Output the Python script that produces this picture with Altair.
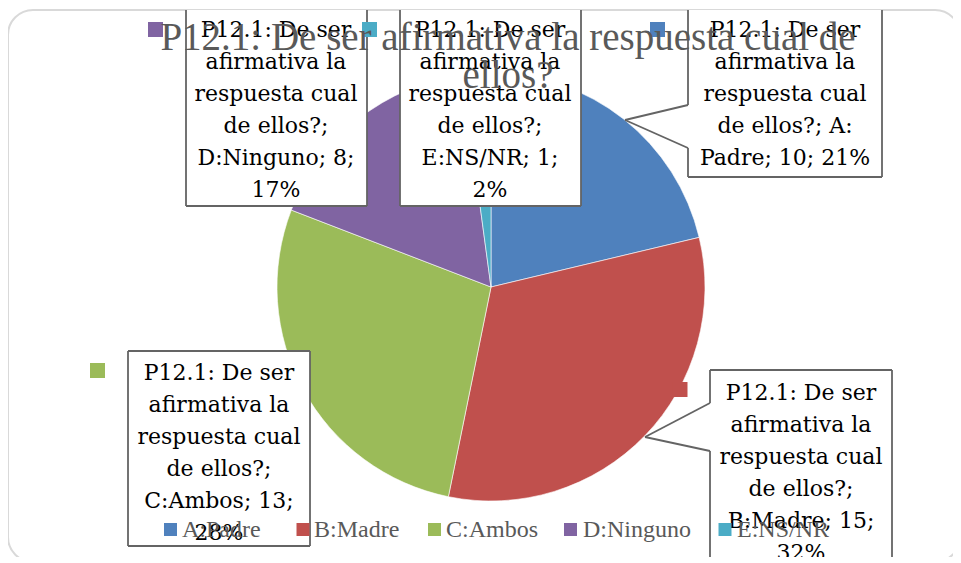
import altair as alt
import pandas as pd

# ---------------- data ----------------
categories = ["A:Padre", "B:Madre", "C:Ambos", "D:Ninguno", "E:NS/NR"]
values = [10, 15, 13, 8, 1]
colors = ["#4F81BD", "#C0504D", "#9BBB59", "#8064A2", "#4BACC6"]
title_lines = ["P12.1: De ser afirmativa la respuesta cual de", "ellos?"]
question_lines = ["P12.1: De ser", "afirmativa la", "respuesta cual"]

total = sum(values)
pcts = [round(v * 100 / total) for v in values]

# ---------------- layout (page pixel coordinates) ----------------
W, H = 945, 549
OX, OY = 8, 8
xs = alt.Scale(domain=[OX, OX + W], range=[0, W], nice=False, zero=False)
ys = alt.Scale(domain=[OY, OY + H], range=[0, H], nice=False, zero=False)
PIE_CX, PIE_CY, PIE_R = 491, 287, 214

# label boxes: (x0, x1, y0, y1, text centre x, first line y)
boxes = {
    "A:Padre": (688, 882, 10, 177, 785, 30),
    "B:Madre": (710, 892, 370, 600, 801, 393),
    "C:Ambos": (128, 310, 351, 546, 219, 373),
    "D:Ninguno": (186, 367, 10, 206, 276, 30),
    "E:NS/NR": (400, 581, 10, 206, 490, 30),
}
LINE_H = 32
# outline segments of each label box
segments = [
    # D
    (186, 10, 186, 206), (186, 206, 367, 206), (367, 206, 367, 10),
    # E
    (400, 10, 400, 206), (400, 206, 581, 206), (581, 206, 581, 10),
    # A with callout pointer
    (688, 10, 688, 105), (688, 105, 625, 120), (625, 120, 688, 148),
    (688, 148, 688, 177), (688, 177, 882, 177), (882, 177, 882, 10),
    # C
    (128, 351, 310, 351), (310, 351, 310, 546), (310, 546, 128, 546), (128, 546, 128, 351),
    # B with callout pointer
    (710, 370, 892, 370), (892, 370, 892, 600), (710, 600, 710, 451),
    (710, 451, 645, 437), (645, 437, 710, 403), (710, 403, 710, 370),
]
# small legend keys beside the labels
label_keys = {
    "A:Padre": (657.5, 29.5),
    "B:Madre": (680, 389.5),
    "C:Ambos": (97.5, 370.5),
    "D:Ninguno": (155.5, 29.5),
    "E:NS/NR": (369.5, 29.5),
}
# bottom legend: (square centre x, text start x)
legend_pos = {
    "A:Padre": (170.5, 182),
    "B:Madre": (303, 314),
    "C:Ambos": (434.5, 446),
    "D:Ninguno": (570.5, 583),
    "E:NS/NR": (725, 737),
}
LEGEND_Y = 529.5

color_enc = alt.Color("cat:N", scale=alt.Scale(domain=categories, range=colors), legend=None)

# ---------------- frame ----------------
frame_df = pd.DataFrame({"x0": [8], "x1": [960], "y0": [10], "y1": [562]})
frame = alt.Chart(frame_df).mark_rect(
    cornerRadius=25, fillOpacity=0, stroke="#d9d9d9", strokeWidth=2
).encode(
    x=alt.X("x0:Q", scale=xs, axis=None), x2="x1:Q",
    y=alt.Y("y0:Q", scale=ys, axis=None), y2="y1:Q",
)

# ---------------- pie ----------------
pie_df = pd.DataFrame({"cat": categories, "val": values, "idx": list(range(len(values)))})
pie = alt.Chart(pie_df).mark_arc(outerRadius=PIE_R, stroke="white", strokeWidth=0.6).encode(
    theta=alt.Theta("val:Q", stack=True),
    color=color_enc,
    order=alt.Order("idx:Q"),
    x=alt.value(PIE_CX - OX),
    y=alt.value(PIE_CY - OY),
)

# ---------------- label boxes ----------------
box_df = pd.DataFrame([
    {"cat": c, "x0": b[0], "x1": b[1], "y0": b[2], "y1": b[3]} for c, b in boxes.items()
])
box_fill = alt.Chart(box_df).mark_rect(fill="white").encode(
    x=alt.X("x0:Q", scale=xs, axis=None), x2="x1:Q",
    y=alt.Y("y0:Q", scale=ys, axis=None), y2="y1:Q",
)
seg_df = pd.DataFrame(segments, columns=["x", "y", "x2", "y2"])
box_lines = alt.Chart(seg_df).mark_rule(color="#646464", strokeWidth=1.8).encode(
    x=alt.X("x:Q", scale=xs, axis=None), x2="x2:Q",
    y=alt.Y("y:Q", scale=ys, axis=None), y2="y2:Q",
)

key_df = pd.DataFrame([
    {"cat": c, "x": p[0], "y": p[1]} for c, p in label_keys.items()
])
keys = alt.Chart(key_df).mark_square(size=225, opacity=1).encode(
    x=alt.X("x:Q", scale=xs, axis=None),
    y=alt.Y("y:Q", scale=ys, axis=None),
    color=color_enc,
)

# label texts built from the data
rows = []
for cat, val, pct in zip(categories, values, pcts):
    name = cat
    if cat == "A:Padre":
        tail = ["de ellos?; A:", f"Padre; {val}; {pct}%"]
    else:
        tail = ["de ellos?;", f"{name}; {val};", f"{pct}%"]
    lines = question_lines + tail
    b = boxes[cat]
    for i, t in enumerate(lines):
        rows.append({"t": t, "x": b[4], "y": b[5] + i * LINE_H})
lab_df = pd.DataFrame(rows)
labels = alt.Chart(lab_df).mark_text(
    font="DejaVu Serif", fontSize=22, color="black", align="center", baseline="middle"
).encode(
    x=alt.X("x:Q", scale=xs, axis=None),
    y=alt.Y("y:Q", scale=ys, axis=None),
    text="t:N",
)

# ---------------- title ----------------
title_df = pd.DataFrame({"t": title_lines, "x": [508, 508], "y": [50, 88]})
title = alt.Chart(title_df).mark_text(
    font="Liberation Serif", fontSize=39, color="#595959", align="center", baseline="alphabetic"
).encode(
    x=alt.X("x:Q", scale=xs, axis=None),
    y=alt.Y("y:Q", scale=ys, axis=None),
    text="t:N",
)

# ---------------- bottom legend ----------------
leg_df = pd.DataFrame([
    {"cat": c, "sx": legend_pos[c][0], "tx": legend_pos[c][1], "y": LEGEND_Y} for c in categories
])
leg_sq = alt.Chart(leg_df).mark_square(size=169, opacity=1).encode(
    x=alt.X("sx:Q", scale=xs, axis=None),
    y=alt.Y("y:Q", scale=ys, axis=None),
    color=color_enc,
)
leg_tx = alt.Chart(leg_df).mark_text(
    font="Liberation Serif", fontSize=24, color="#595959", align="left", baseline="middle"
).encode(
    x=alt.X("tx:Q", scale=xs, axis=None),
    y=alt.Y("y:Q", scale=ys, axis=None),
    text="cat:N",
)

chart = alt.layer(
    frame, pie, box_fill, box_lines, keys, labels, title, leg_sq, leg_tx
).properties(
    width=W, height=H,
    autosize=alt.AutoSizeParams(type="none"),
    padding=0,
    background="white",
).configure_view(stroke=None)

chart.save("out.html", embed_options={"renderer": "svg", "actions": False})
